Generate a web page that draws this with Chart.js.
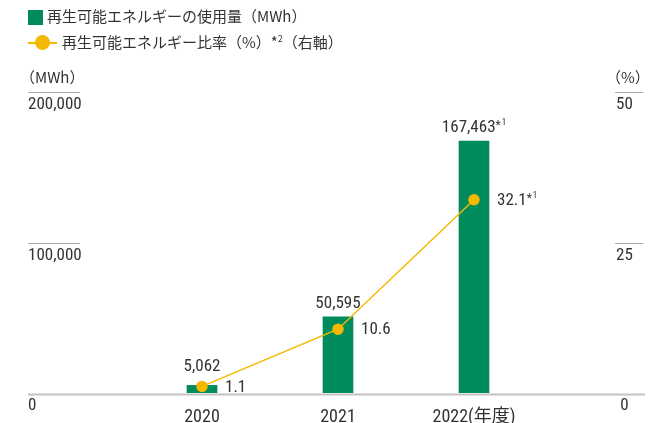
<!DOCTYPE html>
<html><head><meta charset="utf-8">
<script src="https://cdn.jsdelivr.net/npm/chart.js@4"></script>
<style>
html,body{margin:0;padding:0;background:#fff;}
#wrap{position:relative;width:667px;height:423px;}
#c{position:absolute;left:0;top:0;}
.lg{position:absolute;white-space:nowrap;font-family:"Noto Sans CJK JP","Noto Sans",sans-serif;font-size:15px;color:#333;line-height:20px;}
.sw{position:absolute;}
sup{font-size:9px;vertical-align:6px;line-height:0;}
</style></head><body>
<div id="wrap">
<canvas id="c" width="667" height="423"></canvas>
<div class="sw" id="sq" style="left:28px;top:10px;width:15px;height:15px;"></div>
<div class="lg" id="t1" style="left:47px;top:6px;"></div>
<div class="sw" id="ln" style="left:28px;top:42px;width:29px;height:2px;"></div>
<div class="sw" id="dot" style="left:35px;top:35px;width:15px;height:15px;border-radius:50%;"></div>
<div class="lg" id="t2" style="left:62px;top:32px;"></div>
</div>
<script>
const categories = ['2020', '2021', '2022(年度)'];
const usageMWh = [5062, 50595, 167463];
const ratioPct = [1.1, 10.6, 32.1];
const usageNotes = ['', '', '1'];
const ratioNotes = ['', '', '1'];
const leftTicks = [0, 100000, 200000];
const rightTicks = [0, 25, 50];
const seriesNames = ['再生可能エネルギーの使用量（MWh）', '再生可能エネルギー比率（%）'];
const ratioLegendNote = '2';
const ratioLegendSuffix = '（右軸）';
const leftUnit = '（MWh）';
const rightUnit = '（%）';

const GREEN = '#008c5a';
const AMBER = '#f5b800';
const TXT = '#333333';
const NUMFONT = '"Liberation Sans Narrow","Roboto Condensed",Roboto,"Noto Sans CJK JP",sans-serif';
const CJKFONT = '"Noto Sans CJK JP","Noto Sans",sans-serif';

document.getElementById('sq').style.background = GREEN;
document.getElementById('ln').style.background = AMBER;
document.getElementById('dot').style.background = AMBER;
document.getElementById('t1').textContent = seriesNames[0];
document.getElementById('t2').innerHTML = seriesNames[1] + '*<sup>' + ratioLegendNote + '</sup>' + ratioLegendSuffix;

const fmt = v => v.toLocaleString('en-US');
const RIGHT_PAD = 74;

function drawNoted(ctx, text, note, x, y, align) {
  ctx.font = '17px ' + NUMFONT;
  const wMain = ctx.measureText(text).width;
  let wStar = 0, wNote = 0;
  if (note) {
    ctx.font = '12px ' + NUMFONT;
    wStar = ctx.measureText('*').width;
    ctx.font = '9px ' + NUMFONT;
    wNote = ctx.measureText(note).width + 1;
  }
  const total = wMain + wStar + wNote;
  let sx = align === 'center' ? x - total / 2 : x;
  ctx.textAlign = 'left';
  ctx.textBaseline = 'middle';
  ctx.fillStyle = TXT;
  ctx.font = '17px ' + NUMFONT;
  ctx.fillText(text, sx, y);
  if (note) {
    ctx.font = '12px ' + NUMFONT;
    ctx.fillText('*', sx + wMain, y - 2);
    ctx.font = '9px ' + NUMFONT;
    ctx.fillText(note, sx + wMain + wStar + 1, y - 5);
  }
}

const decor = {
  id: 'decor',
  afterDatasetsDraw(chart) {
    const ctx = chart.ctx;
    const yL = chart.scales.yL, yR = chart.scales.yR;
    ctx.save();
    // baseline
    const y0 = yL.getPixelForValue(0);
    ctx.strokeStyle = '#c3c3c3';
    ctx.lineWidth = 2;
    ctx.beginPath();
    ctx.moveTo(yL.left, y0 + 1.5);
    ctx.lineTo(yR.right - 22, y0 + 1.5);
    ctx.stroke();
    // short tick lines
    ctx.strokeStyle = '#aaaaaa';
    ctx.lineWidth = 1;
    const rx = yR.left + RIGHT_PAD;
    leftTicks.forEach(v => {
      if (v === 0) return;
      const y = Math.round(yL.getPixelForValue(v)) + 0.5;
      ctx.beginPath(); ctx.moveTo(yL.left, y); ctx.lineTo(yL.left + 52, y); ctx.stroke();
    });
    rightTicks.forEach(v => {
      if (v === 0) return;
      const y = Math.round(yR.getPixelForValue(v)) + 0.5;
      ctx.beginPath(); ctx.moveTo(rx - 1, y); ctx.lineTo(rx + 27, y); ctx.stroke();
    });
    // unit titles
    const yTop = yL.getPixelForValue(leftTicks[leftTicks.length - 1]);
    ctx.fillStyle = TXT;
    ctx.font = '15px ' + CJKFONT;
    ctx.textBaseline = 'middle';
    ctx.textAlign = 'left';
    ctx.fillText(leftUnit, yL.left - 8, yTop - 15);
    ctx.fillText(rightUnit, rx - 10, yTop - 15);
    // data labels
    const bars = chart.getDatasetMeta(0).data;
    const pts = chart.getDatasetMeta(1).data;
    bars.forEach((b, i) => {
      const ly = Math.min(b.y - 13, pts[i].y - 20);
      drawNoted(ctx, fmt(usageMWh[i]), usageNotes[i], b.x, ly, 'center');
    });
    pts.forEach((p, i) => {
      drawNoted(ctx, ratioPct[i].toFixed(1), ratioNotes[i], p.x + 23, p.y + 1, 'left');
    });
    ctx.restore();
  }
};

function noPad(s) { s.paddingTop = 0; s.paddingBottom = 0; s.paddingLeft = 0; s.paddingRight = 0; }

new Chart(document.getElementById('c'), {
  data: {
    labels: categories,
    datasets: [
      { type: 'bar', label: seriesNames[0], data: usageMWh, yAxisID: 'yL', backgroundColor: GREEN, barThickness: 30, order: 2 },
      { type: 'line', label: seriesNames[1], data: ratioPct, yAxisID: 'yR', borderColor: AMBER, borderWidth: 1.5, backgroundColor: AMBER, pointBackgroundColor: AMBER, pointBorderColor: AMBER, pointRadius: 5, tension: 0, order: 1 }
    ]
  },
  options: {
    responsive: false,
    animation: false,
    devicePixelRatio: 1,
    layout: { padding: { left: 28, right: 0, top: 92, bottom: 0 } },
    plugins: { legend: { display: false }, tooltip: { enabled: false } },
    scales: {
      x: {
        offset: true,
        grid: { display: false },
        border: { display: false },
        ticks: { color: TXT, font: { family: NUMFONT, size: 18 }, padding: 6, maxRotation: 0 },
        afterFit: s => { s.height = 30; noPad(s); }
      },
      yL: {
        position: 'left',
        min: leftTicks[0], max: leftTicks[leftTicks.length - 1],
        afterBuildTicks: s => { s.ticks = leftTicks.map(v => ({ value: v })); },
        grid: { display: false, drawTicks: false },
        border: { display: false },
        ticks: { color: TXT, font: { family: NUMFONT, size: 17 }, crossAlign: 'far', labelOffset: 13, padding: 0, callback: v => fmt(v) },
        afterFit: s => { s.width = 106; noPad(s); }
      },
      yR: {
        position: 'right',
        min: rightTicks[0], max: rightTicks[rightTicks.length - 1],
        afterBuildTicks: s => { s.ticks = rightTicks.map(v => ({ value: v })); },
        grid: { display: false, drawTicks: false },
        border: { display: false },
        ticks: { color: TXT, font: { family: NUMFONT, size: 17 }, crossAlign: 'center', labelOffset: 13, padding: RIGHT_PAD },
        afterFit: s => { s.width = 125; noPad(s); }
      }
    }
  },
  plugins: [decor]
});
</script>
</body></html>
